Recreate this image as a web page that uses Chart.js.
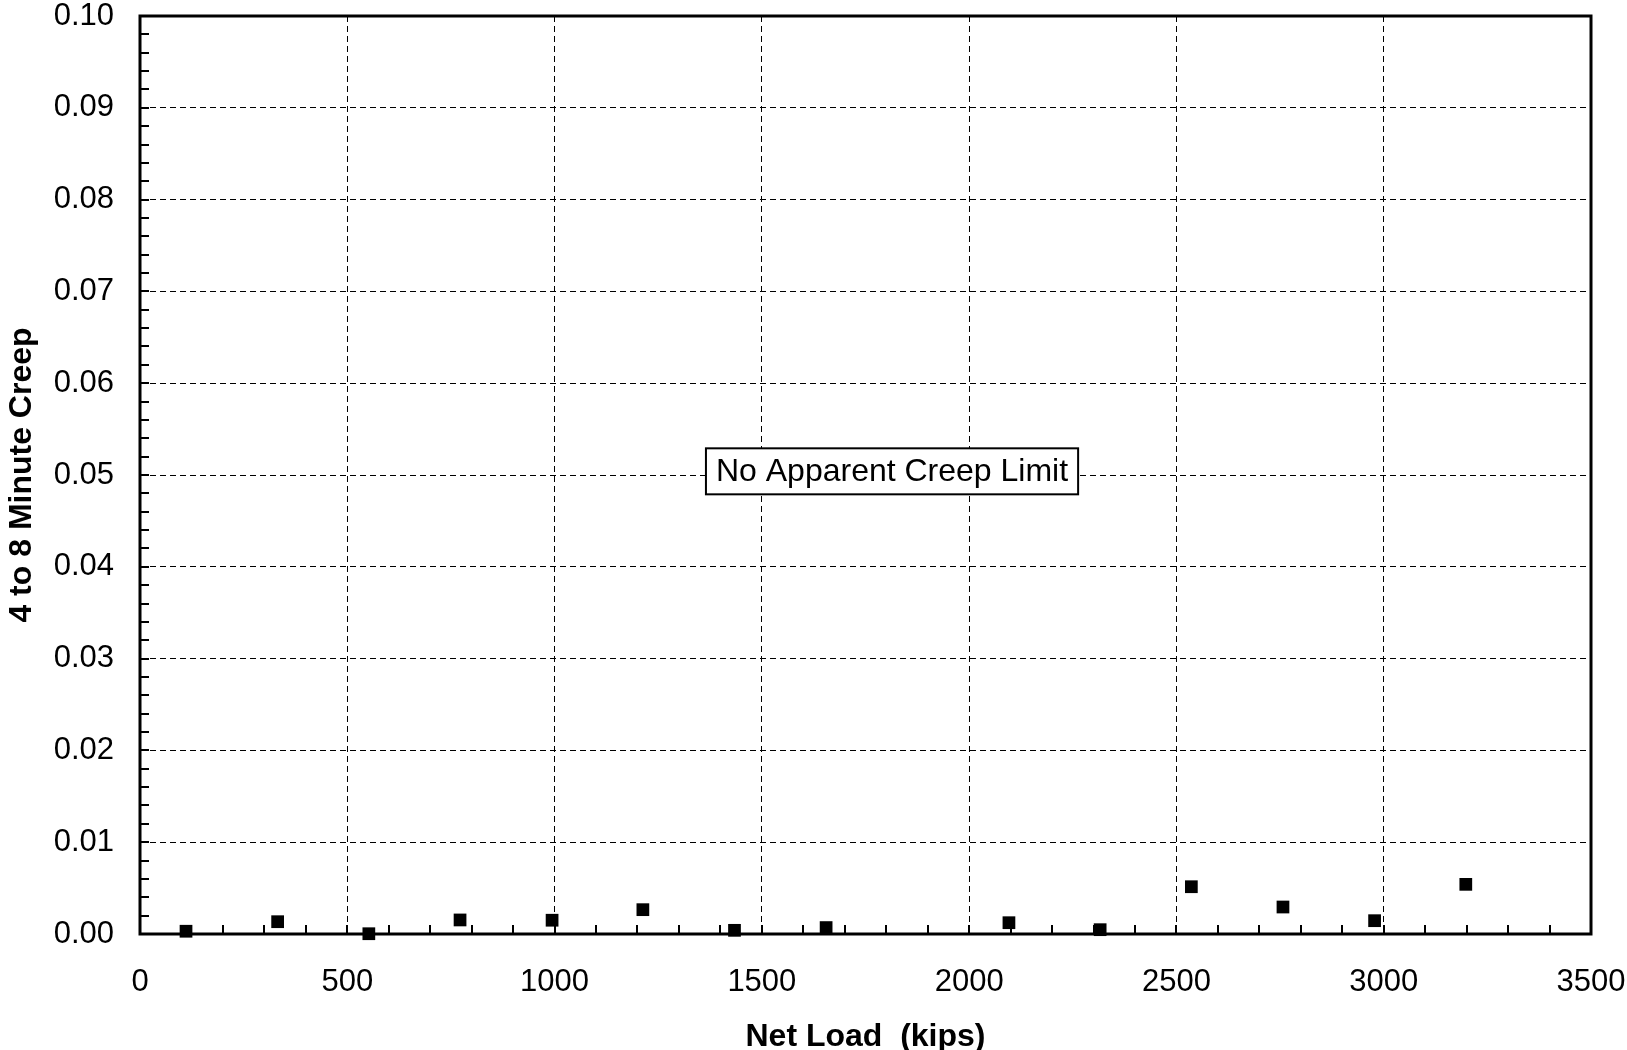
<!DOCTYPE html>
<html>
<head>
<meta charset="utf-8">
<script src="https://cdn.jsdelivr.net/npm/chart.js@4/dist/chart.umd.min.js"></script>
<style>
  html, body { margin: 0; padding: 0; background: #fff; }
  #wrap { width: 1627px; height: 1050px; }
</style>
</head>
<body>
<div id="wrap"><canvas id="c" width="1627" height="1050"></canvas></div>
<script>
// ---- data ----
const netLoad = [111, 332, 552, 772, 994, 1213, 1434, 1655, 2096, 2316, 2536, 2757, 2978, 3198];
const creep   = [0.0003, 0.00134, 0.00003, 0.00153, 0.0015, 0.00265, 0.0004, 0.0007, 0.00123, 0.00047, 0.00515, 0.00294, 0.00145, 0.00541];
const xTitle = 'Net Load  (kips)';
const yTitle = '4 to 8 Minute Creep';
const noteText = 'No Apparent Creep Limit';
const notePos = [1814, 0.0504];

const FONT = '"Liberation Sans", Arial, Helvetica, sans-serif';

const points = netLoad.map((x, i) => ({ x: x, y: creep[i] }));

const framePlugin = {
  id: 'frame',
  beforeDatasetsDraw(chart) {
    const { ctx, chartArea: a, scales } = chart;
    const xs = scales.x, ys = scales.y;
    ctx.save();
    ctx.strokeStyle = '#000';
    ctx.lineWidth = 2;
    ctx.setLineDash([]);
    const tl = 9;
    for (let v = 0; v <= 3500; v += 100) {
      const px = Math.round(xs.getPixelForValue(v));
      ctx.beginPath();
      ctx.moveTo(px, a.bottom);
      ctx.lineTo(px, a.bottom - tl);
      ctx.stroke();
    }
    for (let i = 0; i <= 50; i++) {
      const py = Math.round(ys.getPixelForValue(i * 0.002));
      ctx.beginPath();
      ctx.moveTo(a.left, py);
      ctx.lineTo(a.left + tl, py);
      ctx.stroke();
    }
    ctx.lineWidth = 3;
    ctx.strokeRect(a.left, a.top, a.right - a.left, a.bottom - a.top);
    ctx.restore();
  },
  afterDraw(chart) {
    const { ctx, scales } = chart;
    const cx = scales.x.getPixelForValue(notePos[0]);
    const cy = scales.y.getPixelForValue(notePos[1]);
    ctx.save();
    ctx.font = '32px ' + FONT;
    const w = ctx.measureText(noteText).width + 20;
    const h = 46;
    ctx.fillStyle = '#fff';
    ctx.fillRect(cx - w / 2, cy - h / 2, w, h);
    ctx.strokeStyle = '#000';
    ctx.lineWidth = 2;
    ctx.strokeRect(cx - w / 2, cy - h / 2, w, h);
    ctx.fillStyle = '#000';
    ctx.textAlign = 'center';
    ctx.textBaseline = 'middle';
    ctx.fillText(noteText, cx, cy + 1);
    ctx.restore();
  }
};

new Chart(document.getElementById('c'), {
  type: 'scatter',
  data: {
    datasets: [{
      data: points,
      pointStyle: 'rect',
      pointRadius: 9,
      pointHoverRadius: 9,
      pointBorderWidth: 0,
      backgroundColor: '#000',
      borderColor: '#000',
      clip: false
    }]
  },
  options: {
    responsive: false,
    animation: false,
    devicePixelRatio: 1,
    layout: { padding: { left: 0, right: 36, top: 16, bottom: 0 } },
    plugins: { legend: { display: false }, tooltip: { enabled: false } },
    scales: {
      x: {
        type: 'linear',
        min: 0, max: 3500,
        ticks: { stepSize: 500, color: '#000', font: { family: FONT, size: 31 }, padding: 30, maxRotation: 0,
                 callback: v => String(v) },
        grid: { color: '#000', lineWidth: 1, drawTicks: false },
        border: { display: false, dash: [6, 4] },
        title: { display: true, text: xTitle, color: '#000', font: { family: FONT, size: 32, weight: 'bold' }, padding: { top: 0, bottom: -6 } },
        afterFit(s) { s.height = 116; s.paddingLeft = 0; s.paddingRight = 0; }
      },
      y: {
        type: 'linear',
        min: 0, max: 0.1,
        ticks: { stepSize: 0.01, color: '#000', font: { family: FONT, size: 31 }, padding: 26,
                 callback: v => v.toFixed(2) },
        grid: { color: '#000', lineWidth: 1, drawTicks: false },
        border: { display: false, dash: [6, 4] },
        title: { display: true, text: yTitle, color: '#000', font: { family: FONT, size: 32, weight: 'bold' }, padding: { top: 3, bottom: 0 } },
        afterFit(s) { s.width = 140; s.paddingTop = 0; s.paddingBottom = 0; }
      }
    }
  },
  plugins: [framePlugin]
});
</script>
</body>
</html>
